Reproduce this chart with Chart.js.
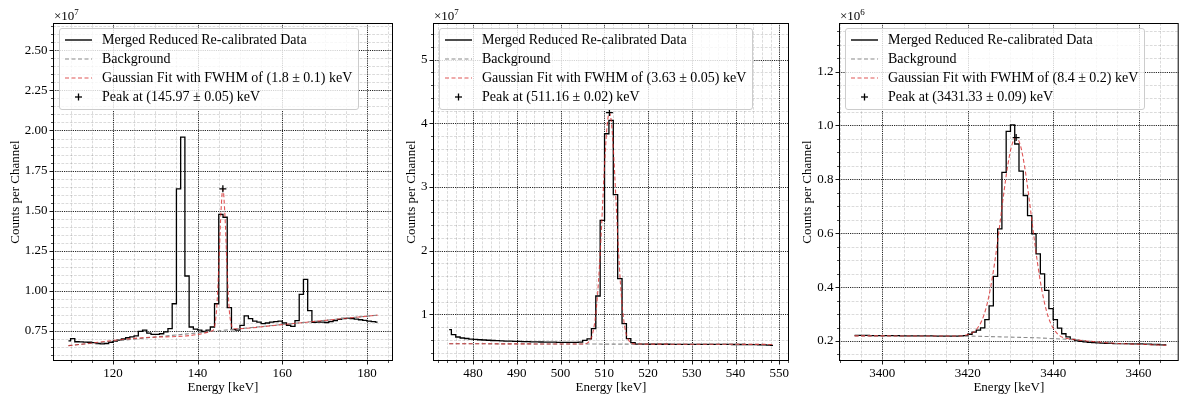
<!DOCTYPE html>
<html><head><meta charset="utf-8">
<script src="https://cdn.jsdelivr.net/npm/chart.js@4.4.0/dist/chart.umd.min.js"></script>
<style>
html,body{margin:0;padding:0;background:#fff;}
#fig{position:relative;width:1184px;height:396px;overflow:hidden;font-family:'Liberation Serif',serif;color:#000;}
.panel{position:absolute;top:0;}
.legend{position:absolute;top:28px;background:rgba(255,255,255,0.8);border:1px solid #cccccc;border-radius:3px;padding:1px 6px 3px 5px;font-size:14px;white-space:nowrap;}
.row{height:19px;line-height:19px;display:flex;align-items:center;}
.row svg{width:27px;height:10px;margin-right:10px;flex:none;}
.offset{position:absolute;top:9px;font-size:13px;line-height:13px;white-space:nowrap;}
.offset .sup{font-size:9px;position:relative;top:-5px;}
</style></head>
<body>
<div id="fig"></div>
<script>
// ================= DATA =================
// Panel 1 (values in units of 1e7 counts per channel)
const p1Energy = [109.5,110.5,111.5,112.5,113.5,114.5,115.5,116.5,117.5,118.5,119.5,120.5,121.5,122.5,123.5,124.5,125.5,126.5,127.5,128.5,129.5,130.5,131.5,132.5,133.5,134.5,135.5,136.5,137.5,138.5,139.5,140.5,141.5,142.5,143.5,144.5,145.5,146.5,147.5,148.5,149.5,150.5,151.5,152.5,153.5,154.5,155.5,156.5,157.5,158.5,159.5,160.5,161.5,162.5,163.5,164.5,165.5,166.5,167.5,168.5,169.5,170.5,171.5,172.5,173.5,174.5,175.5,176.5,177.5,178.5,179.5,180.5,181.5,182.5];
const p1Counts = [0.688,0.702,0.683,0.682,0.681,0.680,0.678,0.672,0.670,0.672,0.680,0.685,0.693,0.700,0.708,0.714,0.720,0.748,0.756,0.737,0.729,0.729,0.733,0.744,0.765,0.920,1.636,1.959,1.093,0.775,0.762,0.755,0.747,0.755,0.775,0.920,1.477,1.459,0.896,0.758,0.756,0.785,0.844,0.827,0.812,0.805,0.796,0.800,0.805,0.808,0.812,0.800,0.786,0.779,0.815,0.978,1.072,0.877,0.804,0.806,0.805,0.803,0.808,0.815,0.822,0.828,0.829,0.828,0.824,0.820,0.816,0.812,0.808,0.805];
const p1BgEnergy = [109.5, 182.5];
const p1BgCounts = [0.659, 0.849];
const p1FitEnergy = [109.5,130,143.5,144.0,144.5,145.0,145.5,145.97,146.5,147.0,147.5,148.0,148.5,160,182.5];
const p1FitCounts = [0.659,0.712,0.751,0.779,0.889,1.145,1.482,1.636,1.448,1.111,0.877,0.785,0.764,0.790,0.849];
const p1PeakEnergy = [145.97];
const p1PeakCounts = [1.636];
const p1XTicks = [120,140,160,180];
const p1YTicks = [0.75,1.00,1.25,1.50,1.75,2.00,2.25,2.50];
const p1Labels = ['Merged Reduced Re-calibrated Data','Background','Gaussian Fit with FWHM of (1.8 \u00b1 0.1) keV','Peak at (145.97 \u00b1 0.05) keV'];

// Panel 2 (units of 1e7)
const p2Energy = [474.55,475.55,476.55,477.55,478.55,479.55,480.55,481.55,482.55,483.55,484.55,485.55,486.55,487.55,488.55,489.55,490.55,491.55,492.55,493.55,494.55,495.55,496.55,497.55,498.55,499.55,500.55,501.55,502.55,503.55,504.55,505.55,506.55,507.55,508.55,509.55,510.55,511.55,512.55,513.55,514.55,515.55,516.55,517.55,518.55,519.55,520.55,521.55,522.55,523.55,524.55,525.55,526.55,527.55,528.55,529.55,530.55,531.55,532.55,533.55,534.55,535.55,536.55,537.55,538.55,539.55,540.55,541.55,542.55,543.55,544.55,545.55,546.55,547.55,548.55];
const p2Counts = [0.759,0.680,0.644,0.628,0.620,0.612,0.606,0.601,0.597,0.593,0.589,0.586,0.583,0.580,0.578,0.576,0.574,0.572,0.570,0.568,0.566,0.565,0.564,0.563,0.562,0.561,0.560,0.560,0.560,0.561,0.563,0.590,0.615,0.775,1.288,2.476,3.836,4.045,2.879,1.560,0.853,0.618,0.555,0.532,0.531,0.531,0.530,0.530,0.530,0.530,0.530,0.529,0.529,0.529,0.529,0.529,0.528,0.528,0.528,0.528,0.528,0.527,0.527,0.527,0.527,0.526,0.526,0.526,0.525,0.525,0.524,0.522,0.520,0.517,0.513];
const p2BgEnergy = [474.55, 548.55];
const p2BgCounts = [0.538, 0.527];
const p2FitEnergy = [474.55,490,500,505.16,506.16,506.66,507.16,507.66,508.16,508.66,509.16,509.66,510.16,510.66,511.16,511.66,512.16,512.66,513.16,513.66,514.16,514.66,515.16,515.66,516.16,517.16,530,548.55];
const p2FitCounts = [0.538,0.536,0.534,0.535,0.552,0.584,0.658,0.808,1.078,1.508,2.098,2.798,3.478,3.983,4.168,3.983,3.478,2.798,2.098,1.508,1.078,0.808,0.657,0.583,0.551,0.534,0.531,0.527];
const p2PeakEnergy = [511.16];
const p2PeakCounts = [4.168];
const p2XTicks = [480,490,500,510,520,530,540,550];
const p2YTicks = [1,2,3,4,5];
const p2Labels = ['Merged Reduced Re-calibrated Data','Background','Gaussian Fit with FWHM of (3.63 \u00b1 0.05) keV','Peak at (511.16 \u00b1 0.02) keV'];

// Panel 3 (units of 1e6)
const p3Energy = [3393.5,3394.5,3395.5,3396.5,3397.5,3398.5,3399.5,3400.5,3401.5,3402.5,3403.5,3404.5,3405.5,3406.5,3407.5,3408.5,3409.5,3410.5,3411.5,3412.5,3413.5,3414.5,3415.5,3416.5,3417.5,3418.5,3419.5,3420.5,3421.5,3422.5,3423.5,3424.5,3425.5,3426.5,3427.5,3428.5,3429.5,3430.5,3431.5,3432.5,3433.5,3434.5,3435.5,3436.5,3437.5,3438.5,3439.5,3440.5,3441.5,3442.5,3443.5,3444.5,3445.5,3446.5,3447.5,3448.5,3449.5,3450.5,3451.5,3452.5,3453.5,3454.5,3455.5,3456.5,3457.5,3458.5,3459.5,3460.5,3461.5,3462.5,3463.5,3464.5,3465.5,3466.5];
const p3Counts = [0.221,0.221,0.221,0.221,0.220,0.220,0.220,0.220,0.220,0.220,0.220,0.219,0.219,0.219,0.219,0.219,0.219,0.219,0.219,0.218,0.218,0.218,0.218,0.218,0.218,0.219,0.220,0.225,0.233,0.240,0.249,0.279,0.330,0.440,0.616,0.826,0.978,1.002,0.931,0.830,0.740,0.665,0.598,0.523,0.449,0.388,0.320,0.279,0.248,0.227,0.215,0.206,0.202,0.199,0.197,0.195,0.194,0.193,0.192,0.191,0.191,0.190,0.190,0.190,0.190,0.189,0.189,0.189,0.188,0.188,0.187,0.187,0.186,0.186];
const p3BgEnergy = [3393.5,3420,3436,3445,3450,3455,3460,3466.5];
const p3BgCounts = [0.219,0.2185,0.212,0.205,0.197,0.191,0.188,0.184];
const p3FitEnergy = [3393.5,3418,3419.33,3420.33,3421.33,3422.33,3423.33,3424.33,3425.33,3426.33,3427.33,3428.33,3429.33,3430.33,3431.33,3432.33,3433.33,3434.33,3435.33,3436.33,3437.33,3438.33,3439.33,3440.33,3441.33,3442.33,3443.33,3445,3450,3455,3460,3466.5];
const p3FitCounts = [0.219,0.2186,0.221,0.225,0.233,0.249,0.277,0.325,0.397,0.494,0.611,0.735,0.848,0.927,0.955,0.926,0.846,0.733,0.608,0.490,0.391,0.318,0.269,0.240,0.222,0.213,0.209,0.205,0.197,0.191,0.188,0.184];
const p3PeakEnergy = [3431.33];
const p3PeakCounts = [0.955];
const p3XTicks = [3400,3420,3440,3460];
const p3YTicks = [0.2,0.4,0.6,0.8,1.0,1.2];
const p3Labels = ['Merged Reduced Re-calibrated Data','Background','Gaussian Fit with FWHM of (8.4 \u00b1 0.2) keV','Peak at (3431.33 \u00b1 0.09) keV'];

const xTitle = 'Energy [keV]';
const yTitle = 'Counts per Channel';

// ================= STYLE / LAYOUT =================
Chart.defaults.font.family = "'Liberation Serif', serif";
Chart.defaults.color = '#000';
const RED = 'rgba(214,39,40,0.78)';
const GRAY = '#8a8a8a';

const panels = [
  {canvasLeft:0, canvasWidth:400, yWidth:53, padRight:7, xMin:105.85, xMax:186.15, yMin:0.563, yMax:2.670,
   xTicks:p1XTicks, yTicks:p1YTicks, xMinorStep:5, yMinorStep:0.05, yDec:2, titlePad:7.5, exp:'7',
   energy:p1Energy, counts:p1Counts, bgE:p1BgEnergy, bgC:p1BgCounts, fitE:p1FitEnergy, fitC:p1FitCounts,
   pkE:p1PeakEnergy, pkC:p1PeakCounts, labels:p1Labels},
  {canvasLeft:395, canvasWidth:405, yWidth:38, padRight:11, xMin:470.85, xMax:552.2, yMin:0.267, yMax:5.575,
   xTicks:p2XTicks, yTicks:p2YTicks, xMinorStep:2, yMinorStep:0.2, yDec:0, titlePad:8.9, exp:'7',
   energy:p2Energy, counts:p2Counts, bgE:p2BgEnergy, bgC:p2BgCounts, fitE:p2FitEnergy, fitC:p2FitCounts,
   pkE:p2PeakEnergy, pkC:p2PeakCounts, labels:p2Labels},
  {canvasLeft:790, canvasWidth:394, yWidth:49, padRight:1, xMin:3389.85, xMax:3469.4, yMin:0.1258, yMax:1.380,
   xTicks:p3XTicks, yTicks:p3YTicks, xMinorStep:5, yMinorStep:0.05, yDec:1, titlePad:9.5, exp:'6',
   energy:p3Energy, counts:p3Counts, bgE:p3BgEnergy, bgC:p3BgCounts, fitE:p3FitEnergy, fitC:p3FitCounts,
   pkE:p3PeakEnergy, pkC:p3PeakCounts, labels:p3Labels}
];

const AX_TOP = 23, X_AXIS_H = 35, H = 396;

function minorValues(min, max, step, majors) {
  const out = [];
  const start = Math.ceil(min / step - 1e-9);
  for (let k = start; k * step <= max + 1e-9; k++) {
    const v = +(k * step).toFixed(6);
    if (!majors.some(m => Math.abs(m - v) < step * 1e-3)) out.push(v);
  }
  return out;
}

function gridPlugin(p) {
  return {
    id: 'mplGrid',
    beforeDatasetsDraw(chart) {
      const {ctx, chartArea: a, scales: {x, y}} = chart;
      const xMinor = minorValues(p.xMin, p.xMax, p.xMinorStep, p.xTicks);
      const yMinor = minorValues(p.yMin, p.yMax, p.yMinorStep, p.yTicks);
      ctx.save();
      ctx.beginPath(); ctx.rect(a.left, a.top, a.right - a.left, a.bottom - a.top); ctx.clip();
      const vline = v => { const px = Math.round(x.getPixelForValue(v)) + 0.5; ctx.beginPath(); ctx.moveTo(px, a.top); ctx.lineTo(px, a.bottom); ctx.stroke(); };
      const hline = v => { const py = Math.round(y.getPixelForValue(v)) + 0.5; ctx.beginPath(); ctx.moveTo(a.left, py); ctx.lineTo(a.right, py); ctx.stroke(); };
      ctx.strokeStyle = 'rgba(0,0,0,0.16)'; ctx.lineWidth = 0.9; ctx.setLineDash([2.8, 1.4]);
      xMinor.forEach(vline); yMinor.forEach(hline);
      ctx.strokeStyle = '#000'; ctx.lineWidth = 0.85; ctx.setLineDash([1.2, 1.0]);
      p.xTicks.forEach(vline); p.yTicks.forEach(hline);
      ctx.restore();
    },
    afterDatasetsDraw(chart) {
      const {ctx, chartArea: a, scales: {x, y}} = chart;
      const xMinor = minorValues(p.xMin, p.xMax, p.xMinorStep, p.xTicks);
      const yMinor = minorValues(p.yMin, p.yMax, p.yMinorStep, p.yTicks);
      ctx.save();
      ctx.setLineDash([]);
      ctx.strokeStyle = '#000';
      ctx.lineWidth = 1;
      ctx.strokeRect(a.left + 0.5, a.top + 0.5, a.right - a.left - 1, a.bottom - a.top - 1);
      const xt = (v, len, w) => { const px = Math.round(x.getPixelForValue(v)) + 0.5; ctx.lineWidth = w; ctx.beginPath(); ctx.moveTo(px, a.bottom); ctx.lineTo(px, a.bottom + len); ctx.stroke(); };
      const yt = (v, len, w) => { const py = Math.round(y.getPixelForValue(v)) + 0.5; ctx.lineWidth = w; ctx.beginPath(); ctx.moveTo(a.left, py); ctx.lineTo(a.left - len, py); ctx.stroke(); };
      p.xTicks.forEach(v => xt(v, 3.5, 0.9)); xMinor.forEach(v => xt(v, 2, 0.7));
      p.yTicks.forEach(v => yt(v, 3.5, 0.9)); yMinor.forEach(v => yt(v, 2, 0.7));
      ctx.restore();
    }
  };
}

const fig = document.getElementById('fig');
const handleSvgs = [
  '<svg viewBox="0 0 27 10"><line x1="0" y1="5" x2="27" y2="5" stroke="#000" stroke-width="1.4"/></svg>',
  '<svg viewBox="0 0 27 10"><line x1="0" y1="5" x2="27" y2="5" stroke="' + GRAY + '" stroke-width="1.1" stroke-dasharray="4 2.5"/></svg>',
  '<svg viewBox="0 0 27 10"><line x1="0" y1="5" x2="27" y2="5" stroke="' + RED + '" stroke-width="1.1" stroke-dasharray="4 2.5"/></svg>',
  '<svg viewBox="0 0 27 10"><line x1="10" y1="5" x2="17" y2="5" stroke="#000" stroke-width="1.3"/><line x1="13.5" y1="1.5" x2="13.5" y2="8.5" stroke="#000" stroke-width="1.3"/></svg>'
];

panels.forEach(p => {
  const wrap = document.createElement('div');
  wrap.className = 'panel';
  wrap.style.left = p.canvasLeft + 'px';
  wrap.style.width = p.canvasWidth + 'px';
  wrap.style.height = H + 'px';
  const cv = document.createElement('canvas');
  cv.width = p.canvasWidth; cv.height = H;
  cv.style.width = p.canvasWidth + 'px'; cv.style.height = H + 'px';
  wrap.appendChild(cv);
  fig.appendChild(wrap);

  const axLeft = p.canvasLeft + p.yWidth;

  new Chart(cv.getContext('2d'), {
    type: 'line',
    data: {
      datasets: [
        {label: p.labels[0], data: p.energy.map((e, i) => ({x: e, y: p.counts[i]})), borderColor: '#000', borderWidth: 1.3,
         stepped: 'middle', pointRadius: 0, fill: false, order: 3},
        {label: p.labels[1], data: p.bgE.map((e, i) => ({x: e, y: p.bgC[i]})), borderColor: GRAY, borderWidth: 1.1,
         borderDash: [4, 2.5], pointRadius: 0, fill: false, order: 2},
        {label: p.labels[2], data: p.fitE.map((e, i) => ({x: e, y: p.fitC[i]})), borderColor: RED, borderWidth: 1.1,
         borderDash: [4, 2.5], pointRadius: 0, fill: false, cubicInterpolationMode: 'monotone', order: 1},
        {label: p.labels[3], data: p.pkE.map((e, i) => ({x: e, y: p.pkC[i]})), showLine: false, pointStyle: 'cross',
         pointRadius: 3.5, pointBorderWidth: 1.3, borderColor: '#000', backgroundColor: '#000', order: 0}
      ]
    },
    options: {
      responsive: false, animation: false, devicePixelRatio: 1,
      layout: {padding: {left: 0, top: AX_TOP, right: p.padRight, bottom: 0}},
      plugins: {legend: {display: false}, tooltip: {enabled: false}},
      scales: {
        x: {
          type: 'linear', min: p.xMin, max: p.xMax,
          afterBuildTicks: s => { s.ticks = p.xTicks.map(v => ({value: v})); },
          afterFit: s => { s.height = X_AXIS_H; },
          ticks: {font: {size: 13}, color: '#000', padding: 1, autoSkip: false, maxRotation: 0, minRotation: 0,
                  callback: v => String(Math.round(v))},
          grid: {display: true, drawOnChartArea: false, tickLength: 4, color: 'transparent', tickColor: 'transparent'},
          border: {display: false},
          title: {display: true, text: xTitle, font: {size: 13}, color: '#000', padding: {top: 0, bottom: 0.5}}
        },
        y: {
          type: 'linear', min: p.yMin, max: p.yMax,
          afterBuildTicks: s => { s.ticks = p.yTicks.map(v => ({value: v})); },
          afterFit: s => { s.width = p.yWidth; },
          ticks: {font: {size: 13}, color: '#000', padding: 1.5, autoSkip: false,
                  callback: v => Number(v).toFixed(p.yDec)},
          grid: {display: true, drawOnChartArea: false, tickLength: 4, color: 'transparent', tickColor: 'transparent'},
          border: {display: false},
          title: {display: true, text: yTitle, font: {size: 13}, color: '#000', padding: {top: p.titlePad, bottom: 0}}
        }
      }
    },
    plugins: [gridPlugin(p)]
  });

  // offset text (scale multiplier)
  const off = document.createElement('div');
  off.className = 'offset';
  off.style.left = (axLeft + 1) + 'px';
  off.innerHTML = '\u00d710<span class="sup">' + p.exp + '</span>';
  fig.appendChild(off);

  // legend
  const lg = document.createElement('div');
  lg.className = 'legend';
  lg.style.left = (axLeft + 6) + 'px';
  lg.innerHTML = p.labels.map((t, i) => '<div class="row">' + handleSvgs[i] + '<span>' + t + '</span></div>').join('');
  fig.appendChild(lg);
});
</script>
</body></html>
